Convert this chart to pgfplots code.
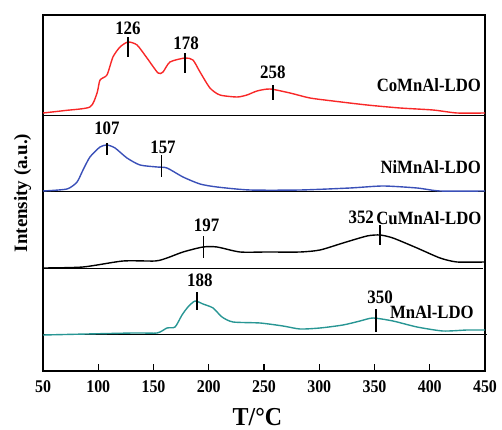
\documentclass[border=0pt]{standalone}
\usepackage{fontspec}
\setmainfont{Liberation Serif}
\usepackage{graphicx}
\usepackage{pgfplots}
\pgfplotsset{compat=1.18}
\definecolor{cored}{RGB}{248,40,40}
\definecolor{niblue}{RGB}{58,80,184}
\definecolor{mnteal}{RGB}{40,150,148}
\newcommand{\tall}[1]{\scalebox{1}[1.12]{#1}}
\tikzset{
  peak/.style={black, line width=1.2pt},
  lab/.style={font=\fontsize{17}{19}\selectfont\bfseries},
  plab/.style={font=\fontsize{16.8}{19}\selectfont\bfseries, anchor=east},
}
\begin{document}
\begin{tikzpicture}
\useasboundingbox (0,0) rectangle (502bp,430bp);
\begin{axis}[
  at={(43bp,59bp)}, anchor=south west,
  scale only axis, width=442bp, height=356bp,
  xmin=50, xmax=450, ymin=0, ymax=356,
  xtick={50,100,...,450}, ytick=\empty,
  tick align=inside, xtick pos=lower,
  major tick length=7bp,
  axis line style={line width=1.3pt},
  every tick/.style={black, line width=1.2pt},
  /pgf/number format/assume math mode=true,
  xticklabel={\tall{\pgfmathprintnumber{\tick}}},
  xticklabel style={font=\fontsize{16}{18}\selectfont\bfseries, anchor=center, yshift=-16bp},
  xlabel={\scalebox{1}[1.08]{T/°C}},
  ylabel={Intensity (a.u.)},
  xlabel style={font=\fontsize{24}{26}\selectfont\bfseries, at={(axis description cs:0.485,-0.13)}, anchor=center},
  ylabel style={font=\fontsize{19}{22}\selectfont\bfseries, at={(axis description cs:-0.046,0.5)}, anchor=center},
  clip=false,
]
% separators
\addplot[black, line width=0.9pt] coordinates {(50,256) (450,256)};
\addplot[black, line width=0.9pt] coordinates {(50,180) (450,180)};
\addplot[black, line width=0.9pt] coordinates {(50,103) (448,103)};
\addplot[black, line width=0.9pt] coordinates {(50,37) (452,37)};
% CoMnAl-LDO
\addplot[cored, line width=1.4pt, smooth, tension=0.4] coordinates {
(50,258)(70,260.5)(92.5,264)(98.9,278)(101.6,291)(107.9,296)(113.3,314)(119.7,324)(126.9,329)(135.1,326)(144.1,313)(154.1,298)(158.6,299)(164.9,309)(178.5,313)(185.7,311)(192.1,299)(201.1,283)(210.1,276)(225.6,274)(234.6,276)(243.7,280)(255.4,282)(273.5,278)(291.6,273)(312.4,270)(343.2,266)(373.1,263)(402.9,261)(424.7,258)(450,258)};
% NiMnAl-LDO
\addplot[niblue, line width=1.4pt, smooth, tension=0.4] coordinates {
(50,180)(71.7,182)(80.8,189)(86.2,201)(92.5,214)(101.6,224)(107.9,226)(115.2,223)(126,213)(137.8,206)(153.2,204)(162.2,203)(176.7,194)(192.1,187)(207.5,184)(237.3,181)(282.6,181)(327.8,183)(357.7,185)(388.5,183)(409.3,180)(450,180)};
% CuMnAl-LDO
\addplot[black, line width=1.4pt, smooth, tension=0.4] coordinates {
(50,103)(86.2,104)(122.4,110)(151.4,110)(162.2,113)(176.7,119)(194.8,124)(207.5,124)(228.3,119)(252.7,119)(282.6,119)(300.7,121)(321.5,128)(343.2,135)(355,136)(366.7,133)(388.5,123)(409.3,113)(424.7,109)(450,109)};
% MnAl-LDO
\addplot[mnteal, line width=1.4pt, smooth, tension=0.4] coordinates {
(50,36)(131.4,38)(153.2,38)(162.2,43)(169.5,44)(175.8,56)(181.2,64)(187.6,70)(194.8,67)(203.9,63)(212,54)(222,49)(246.4,48)(267.2,45)(282.6,42)(300.7,43)(321.5,46)(336.9,50)(348.6,53)(366.7,50)(388.5,44)(412,40)(433.8,41)(450,41)};
% peak markers
\addplot[peak] coordinates {(126.9,314) (126.9,334)};
\addplot[peak] coordinates {(178.5,298) (178.5,318)};
\addplot[peak] coordinates {(258.1,271) (258.1,286)};
\addplot[peak] coordinates {(107.9,216) (107.9,228)};
\addplot[peak] coordinates {(157.4,194) (157.4,216)};
\addplot[peak] coordinates {(195.5,113) (195.5,135)};
\addplot[peak] coordinates {(355,126) (355,146)};
\addplot[peak] coordinates {(189.4,61) (189.4,79)};
\addplot[peak] coordinates {(351.4,39) (351.4,62)};
% peak labels
\node[lab] at (axis cs:126.9,343) {\tall{126}};
\node[lab] at (axis cs:179.5,328) {\tall{178}};
\node[lab] at (axis cs:258,299) {\tall{258}};
\node[lab] at (axis cs:107.9,243) {\tall{107}};
\node[lab] at (axis cs:158.6,224) {\tall{157}};
\node[lab] at (axis cs:198,146) {\tall{197}};
\node[lab] at (axis cs:338,154) {\tall{352}};
\node[lab] at (axis cs:192,91) {\tall{188}};
\node[lab] at (axis cs:355,74) {\tall{350}};
% panel labels
\node[plab] at (axis cs:449.5,286) {\tall{CoMnAl-LDO}};
\node[plab] at (axis cs:449.5,204) {\tall{NiMnAl-LDO}};
\node[plab] at (axis cs:450,153) {\tall{CuMnAl-LDO}};
\node[plab] at (axis cs:443,59) {\tall{MnAl-LDO}};
\end{axis}
\end{tikzpicture}
\end{document}
